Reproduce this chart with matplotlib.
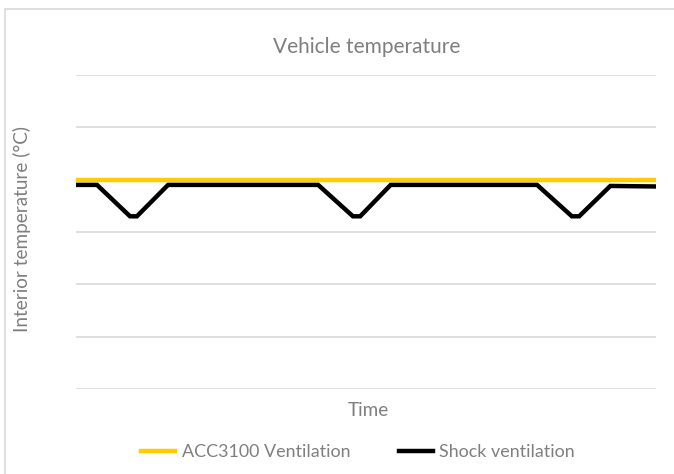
import matplotlib
matplotlib.use("Agg")
import matplotlib.pyplot as plt
from matplotlib.patches import Rectangle

# 数据（时间单位任意，温度无刻度）
time_acc = [0, 80]
temp_acc = [4.0, 4.0]

time_shock = [0, 2.9, 7.45, 8.4, 12.7, 33.4, 38.2, 39.2, 43.4, 63.6, 68.4, 69.4, 73.7, 80]
temp_shock = [3.9, 3.9, 3.3, 3.3, 3.9, 3.9, 3.3, 3.3, 3.9, 3.9, 3.3, 3.3, 3.88, 3.87]

TEXT = "#7f7f7f"
GRID = "#d9d9d9"

plt.rcParams['font.family'] = ['Lato', 'DejaVu Sans']

W, H = 674, 474
fig = plt.figure(figsize=(W / 100, H / 100), dpi=100)

# 外框
fig.patches.append(Rectangle((4.5 / W, -0.1), 1.2, (H - 9.5) / H + 0.1, transform=fig.transFigure,
                             fill=False, edgecolor=GRID, linewidth=1.2))

ax = fig.add_axes([76 / W, (H - 389) / H, 580 / W, 314 / H])
ax.plot(time_acc, temp_acc, color="#ffcc00", linewidth=3.2, label="ACC3100 Ventilation", zorder=3)
ax.plot(time_shock, temp_shock, color="black", linewidth=3.2, label="Shock ventilation",
        solid_joinstyle="miter", zorder=4)

ax.set_xlim(0, 80)
ax.set_ylim(0, 6)
ax.set_yticks(range(0, 7))
ax.set_xticks([])
ax.tick_params(left=False, labelleft=False)
ax.grid(axis='y', color=GRID, linewidth=1.2)
for s in ax.spines.values():
    s.set_visible(False)
ax.set_axisbelow(True)

fig.text(367 / W, 1 - 47 / H, "Vehicle temperature", ha="center", va="center", fontsize=15, color=TEXT)
fig.text(22 / W, 1 - 229 / H, "Interior temperature (°C)", ha="center", va="center", rotation=90,
         fontsize=13.6, color=TEXT)
fig.text(368 / W, 1 - 410 / H, "Time", ha="center", va="center", fontsize=13.6, color=TEXT)

fig.legend(loc="center", bbox_to_anchor=(358 / W, 1 - 452 / H), ncol=2, frameon=False,
           fontsize=12.9, labelcolor=TEXT, handlelength=1.9, handletextpad=0.35, columnspacing=2.7)

fig.savefig("out.png", dpi=100)
